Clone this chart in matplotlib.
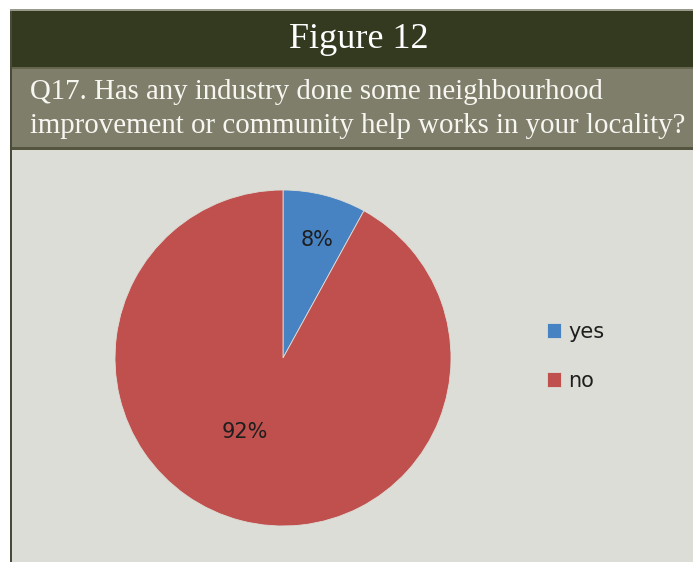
import matplotlib
matplotlib.use("Agg")
import matplotlib.pyplot as plt
from matplotlib.patches import Rectangle

# Survey answers
categories = ["yes", "no"]
shares = [8, 92]
colors = ["#4783C3", "#C0504D"]

fig_title = "Figure 12"
question = ("Q17. Has any industry done some neighbourhood\n"
            "improvement or community help works in your locality?")

W, H = 693, 562
fig = plt.figure(figsize=(W / 100, H / 100), dpi=100, facecolor="white")


def band(x0, y0, x1, y1, color):
    """Filled rectangle given in pixel coordinates measured from the top-left."""
    fig.add_artist(Rectangle((x0 / W, 1 - y1 / H), (x1 - x0) / W, (y1 - y0) / H,
                             transform=fig.transFigure, facecolor=color,
                             edgecolor="none", zorder=0))


# Frame: header, question strip, plot area and separators
band(10, 9, W, 11, "#9A9A8C")
band(10, 11, W, 67, "#333A20")
band(10, 67, W, 69, "#66664F")
band(10, 69, W, 147, "#7F7E6A")
band(10, 147, W, 150, "#55553F")
band(12, 150, W, H, "#DDDDD7")
band(10, 11, 12, H, "#4A4A38")

serif = ["Liberation Serif", "DejaVu Serif"]
fig.text(359 / W, 1 - 39 / H, fig_title, ha="center", va="center",
         color="white", fontsize=26, family=serif)
fig.text(30 / W, 1 - 109 / H, question, ha="left", va="center",
         color="#F7F7F2", fontsize=20.8, family=serif, linespacing=1.42)

# Pie chart
ax = fig.add_axes([115 / W, 1 - 526 / H, 336 / W, 336 / H])
wedges, _ = ax.pie(shares, colors=colors, startangle=90, counterclock=False,
                   radius=1, wedgeprops=dict(linewidth=0.6, edgecolor="#DDDDD7"))
ax.set_xlim(-1, 1)
ax.set_ylim(-1, 1)
ax.set_aspect("equal")
ax.axis("off")

label_pos = [(0.20, 0.70), (-0.23, -0.44)]
for (x, y), v in zip(label_pos, shares):
    ax.text(x, y, f"{v}%", ha="center", va="center", fontsize=15,
            color="#1E1E1E", family="DejaVu Sans")

leg = fig.legend(wedges, categories, loc="upper left",
                 bbox_to_anchor=(528 / W, 1 - 303 / H), frameon=False,
                 handlelength=0.7, handleheight=0.7, handletextpad=0.35,
                 labelspacing=1.4, prop=dict(family="DejaVu Sans", size=15))
for t in leg.get_texts():
    t.set_color("#1E1E1E")

fig.savefig("out.png", dpi=100, facecolor="white")
